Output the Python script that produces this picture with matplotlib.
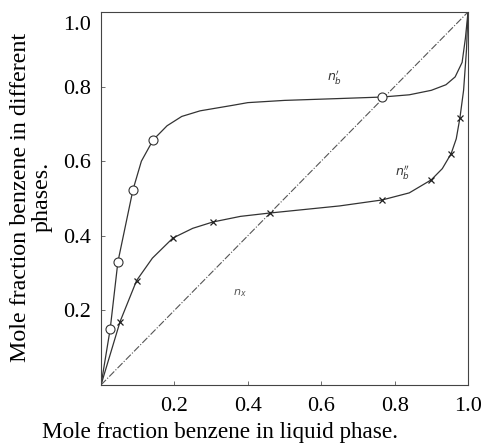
import matplotlib
matplotlib.use('Agg')
import matplotlib.pyplot as plt
from matplotlib.transforms import ScaledTranslation

# liquid composition (x) vs benzene mole fraction in each phase
# upper curve n_b' -- open circles
upper_pts_x = [0.025, 0.046, 0.087, 0.142, 0.766]
upper_pts_y = [0.15, 0.33, 0.523, 0.657, 0.772]
upper_line_x = [0.0, 0.025, 0.046, 0.087, 0.11, 0.142, 0.18, 0.22, 0.27, 0.36, 0.40,
                0.50, 0.65, 0.766, 0.84, 0.90, 0.94, 0.965, 0.984, 0.993, 1.0]
upper_line_y = [0.0, 0.15, 0.33, 0.523, 0.60, 0.657, 0.695, 0.72, 0.735, 0.75, 0.757,
                0.763, 0.768, 0.772, 0.778, 0.79, 0.805, 0.826, 0.865, 0.93, 1.0]

# lower curve n_b'' -- crosses
lower_pts_x = [0.052, 0.097, 0.196, 0.305, 0.46, 0.766, 0.90, 0.954, 0.978]
lower_pts_y = [0.17, 0.28, 0.394, 0.437, 0.461, 0.496, 0.55, 0.62, 0.716]
lower_line_x = [0.0, 0.052, 0.097, 0.14, 0.196, 0.25, 0.305, 0.38, 0.46, 0.55, 0.65,
                0.766, 0.84, 0.90, 0.93, 0.954, 0.968, 0.978, 0.988, 0.996, 1.0]
lower_line_y = [0.0, 0.17, 0.28, 0.34, 0.394, 0.42, 0.437, 0.452, 0.461, 0.47, 0.48,
                0.496, 0.515, 0.55, 0.58, 0.62, 0.66, 0.716, 0.79, 0.9, 1.0]

diag = [0.0, 1.0]
ticks = [0.2, 0.4, 0.6, 0.8, 1.0]
tick_labels = ['0.2', '0.4', '0.6', '0.8', '1.0']

plt.rcParams['font.family'] = ['Liberation Serif', 'DejaVu Serif']

fig = plt.figure(figsize=(4.88, 4.45), dpi=100)
ax = fig.add_axes([0.207, 0.135, 0.752, 0.838])

ax.plot(diag, diag, color='#555555', lw=0.8, ls='-.')
ax.plot(upper_line_x, upper_line_y, color='#333333', lw=0.9)
ax.plot(lower_line_x, lower_line_y, color='#333333', lw=0.9)
ax.plot(upper_pts_x, upper_pts_y, 'o', ms=6.5, mfc='white', mec='#333333', mew=0.8)
ax.plot(lower_pts_x, lower_pts_y, 'x', ms=4, color='#222222', mew=0.9)

ax.text(0.615, 0.815, "$n_b'$", fontsize=9, color='#333333')
ax.text(0.80, 0.56, "$n_b''$", fontsize=9, color='#333333')
ax.text(0.36, 0.24, "$n_x$", fontsize=8, color='#555555')

ax.set_xlim(0, 1.0)
ax.set_ylim(0, 1.0)
ax.set_xticks(ticks)
ax.set_yticks(ticks)
ax.set_xticklabels(tick_labels)
ax.set_yticklabels(tick_labels)
ax.tick_params(direction='in', length=3, width=0.6, labelsize=16, color='#555555', pad=7)
ax.tick_params(axis='x', pad=9)
for s in ax.spines.values():
    s.set_linewidth(0.8)
    s.set_color('#444444')

# the printed "1.0" on the y axis sits a bit below the top of the frame
top_lab = ax.get_yticklabels()[-1]
top_lab.set_transform(top_lab.get_transform() + ScaledTranslation(0, -8 / 72, fig.dpi_scale_trans))

fig.text(0.451, 0.016, 'Mole fraction benzene in liquid phase.', fontsize=16.7,
         ha='center', va='baseline')
fig.text(0.02, 0.557, 'Mole fraction benzene in different\nphases.', fontsize=17.3,
         rotation=90, ha='left', va='center', multialignment='center', linespacing=1.05)

fig.savefig('out.png', dpi=100, facecolor='white')
